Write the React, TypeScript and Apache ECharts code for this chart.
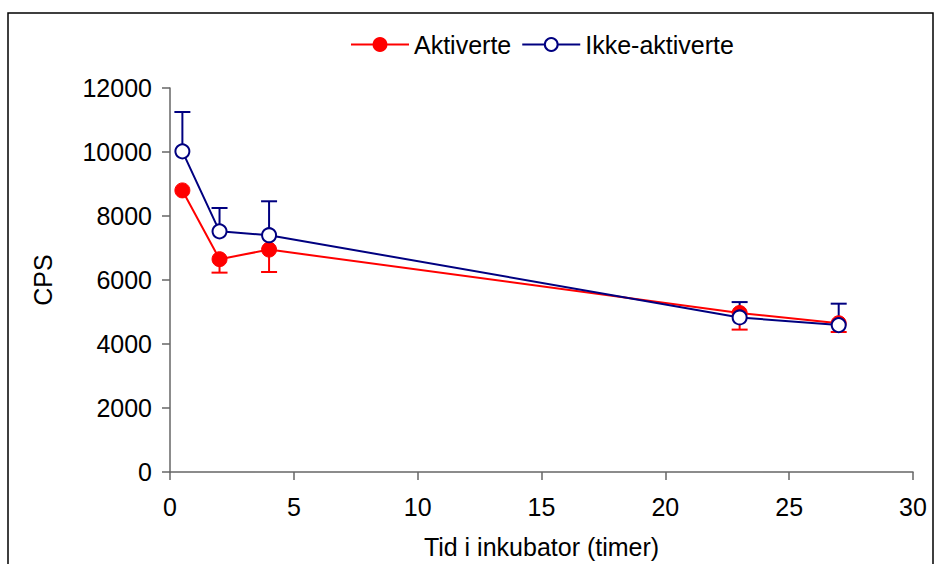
import React, { useEffect, useRef } from "react";
import * as echarts from "echarts";

const hours = [0.5, 2, 4, 23, 27];
const aktiverte = [8800, 6650, 6950, 4970, 4650];
const aktiverteErrLow = [0, 420, 700, 520, 275];
const ikkeAktiverte = [10020, 7520, 7400, 4830, 4590];
const ikkeAktiverteErrHigh = [1230, 730, 1060, 480, 670];
const seriesNames = ["Aktiverte", "Ikke-aktiverte"];
const xTitle = "Tid i inkubator (timer)";
const yTitle = "CPS";

const FONT = "'Liberation Sans', Arial, sans-serif";
const FS = 25;
const RED = "#FF0000";
const NAVY = "#000080";

function errorSeries(color: string, data: number[][]) {
  return {
    type: "custom",
    z: 1,
    silent: true,
    encode: { x: 0, y: [1, 2] },
    data,
    renderItem: (params: any, api: any) => {
      if (api.value(1) === api.value(2)) return { type: "group", children: [] };
      const p0 = api.coord([api.value(0), api.value(1)]);
      const p1 = api.coord([api.value(0), api.value(2)]);
      const half = 8;
      return {
        type: "group",
        children: [
          {
            type: "line",
            shape: { x1: p0[0], y1: p0[1], x2: p1[0], y2: p1[1] },
            style: { stroke: color, lineWidth: 2 },
          },
          {
            type: "line",
            shape: { x1: p1[0] - half, y1: p1[1], x2: p1[0] + half, y2: p1[1] },
            style: { stroke: color, lineWidth: 2 },
          },
        ],
      };
    },
  };
}

export default function App() {
  const ref = useRef<HTMLDivElement>(null);
  useEffect(() => {
    if (!ref.current) return;
    const chart = echarts.init(ref.current, null, { renderer: "svg" });
    const redPts = hours.map((h, i) => [h, aktiverte[i]]);
    const bluePts = hours.map((h, i) => [h, ikkeAktiverte[i]]);
    const redErr = hours.map((h, i) => [h, aktiverte[i], aktiverte[i] - aktiverteErrLow[i]]);
    const blueErr = hours.map((h, i) => [h, ikkeAktiverte[i], ikkeAktiverte[i] + ikkeAktiverteErrHigh[i]]);
    const axisLineStyle = { color: "#666666", width: 1.5 };
    chart.setOption({
      animation: false,
      backgroundColor: "#ffffff",
      textStyle: { fontFamily: FONT },
      graphic: [
        {
          type: "rect",
          shape: { x: 8, y: 13, width: 925, height: 600 },
          style: { fill: "none", stroke: "#000000", lineWidth: 1.5 },
          silent: true,
          z: -10,
        },
      ],
      legend: {
        data: seriesNames,
        top: 27,
        left: 345,
        itemWidth: 58,
        itemHeight: 16,
        itemGap: 10,
        textStyle: { fontSize: FS, color: "#000", fontFamily: FONT },
      },
      grid: { left: 170, right: 28, top: 88, bottom: 92 },
      xAxis: {
        type: "value",
        min: 0,
        max: 30,
        interval: 5,
        name: xTitle,
        nameLocation: "middle",
        nameGap: 62,
        nameTextStyle: { fontSize: FS, color: "#000", fontFamily: FONT },
        axisLine: { show: true, lineStyle: axisLineStyle },
        axisTick: { show: true, inside: false, length: 8, lineStyle: axisLineStyle },
        axisLabel: { fontSize: FS, color: "#000", margin: 22, fontFamily: FONT, formatter: (v: number) => String(v) },
        splitLine: { show: false },
      },
      yAxis: {
        type: "value",
        min: 0,
        max: 12000,
        interval: 2000,
        name: yTitle,
        nameLocation: "middle",
        nameGap: 115,
        nameTextStyle: { fontSize: FS, color: "#000", fontFamily: FONT },
        axisLine: { show: true, lineStyle: axisLineStyle },
        axisTick: { show: true, inside: false, length: 8, lineStyle: axisLineStyle },
        axisLabel: { fontSize: FS, color: "#000", margin: 18, fontFamily: FONT, formatter: (v: number) => String(v) },
        splitLine: { show: false },
      },
      series: [
        errorSeries(RED, redErr),
        errorSeries(NAVY, blueErr),
        {
          name: seriesNames[0],
          type: "line",
          z: 3,
          data: redPts,
          symbol: "circle",
          symbolSize: 15,
          lineStyle: { color: RED, width: 2 },
          itemStyle: { color: RED, borderColor: RED, borderWidth: 1 },
        },
        {
          name: seriesNames[1],
          type: "line",
          z: 4,
          data: bluePts,
          symbol: "circle",
          symbolSize: 14,
          lineStyle: { color: NAVY, width: 2 },
          itemStyle: { color: "#ffffff", borderColor: NAVY, borderWidth: 2 },
        },
      ],
    });
    return () => chart.dispose();
  }, []);
  return (
    <div
      ref={ref}
      style={{ position: "fixed", left: 0, top: 0, width: 941, height: 564, background: "#fff" }}
    />
  );
}
